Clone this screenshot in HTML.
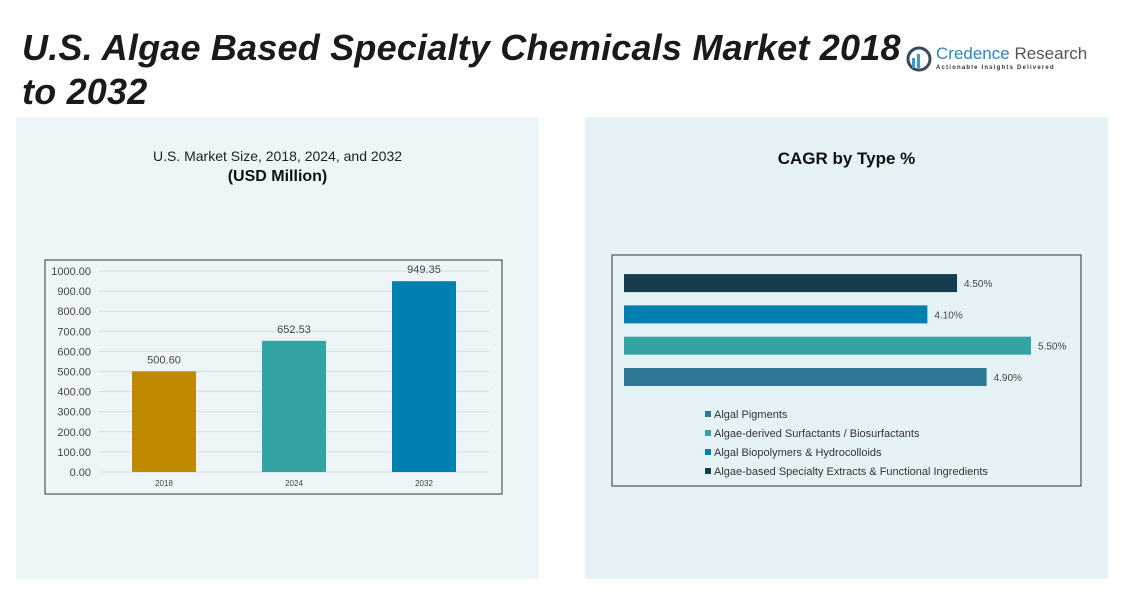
<!DOCTYPE html>
<html><head><meta charset="utf-8">
<style>
body{margin:0;width:1138px;height:616px;background:#fff;font-family:"Liberation Sans",sans-serif;overflow:hidden;position:relative}
.t{position:absolute;left:22px;top:26px;font-size:36px;letter-spacing:0.2px;font-weight:bold;font-style:italic;color:#1a1a1a;line-height:44px;white-space:nowrap}
.panel{position:absolute;background:#eef5f9}
</style></head><body>
<div class="t">U.S. Algae Based Specialty Chemicals Market 2018<br>to 2032</div>
<div style="position:absolute;left:904px;top:44px;width:190px;height:30px;white-space:nowrap">
  <svg width="30" height="30" style="position:absolute;left:0;top:0"><circle cx="15" cy="15" r="11" fill="none" stroke="#3a4a5a" stroke-width="3"/><rect x="8" y="14" width="3" height="10" fill="#3a9ad0"/><rect x="13" y="10" width="3" height="14" fill="#3a9ad0"/></svg>
  <div style="position:absolute;left:32px;top:0;font-size:17px;color:#2a86c0;white-space:nowrap">Credence <span style="color:#555">Research</span></div>
  <div style="position:absolute;left:32px;top:21px;font-size:6px;color:#333;letter-spacing:1.2px;font-weight:bold;white-space:nowrap">Actionable Insights Delivered</div>
</div>
<div class="panel" style="left:16px;top:117px;width:523px;height:462px"></div>
<div class="panel" style="left:585px;top:117px;width:523px;height:462px;background:#e6f3f6"></div>
<div style="position:absolute;left:16px;width:523px;top:148px;text-align:center;font-size:14px;color:#222">U.S. Market Size, 2018, 2024, and 2032</div>
<div style="position:absolute;left:16px;width:523px;top:168px;text-align:center;font-size:16px;font-weight:bold;color:#111">(USD Million)</div>
<div style="position:absolute;left:585px;width:523px;top:149px;text-align:center;font-size:17px;font-weight:bold;color:#111">CAGR by Type %</div>
<svg id="c1" width="1138" height="616" style="position:absolute;left:0;top:0"></svg>
<script>
const years=["2018","2024","2032"];
const sizes=[500.60,652.53,949.35];
const barColors=["#c08a00","#33a3a3","#0080b0"];
const yTicks=[0,100,200,300,400,500,600,700,800,900,1000];
const types=["Algal Pigments","Algae-derived Surfactants / Biosurfactants","Algal Biopolymers & Hydrocolloids","Algae-based Specialty Extracts & Functional Ingredients"];
const cagr=[4.90,5.50,4.10,4.50];
const typeColors=["#2e7896","#33a3a3","#0080b0","#163c4e"];
const NS="http://www.w3.org/2000/svg";
const svg=document.getElementById('c1');
function mk(tag,attrs,parent){const e=document.createElementNS(NS,tag);for(const k in attrs)e.setAttribute(k,attrs[k]);(parent||svg).appendChild(e);return e;}
function txt(s,attrs){const e=mk('text',attrs);e.textContent=s;return e;}
const f1=mk('rect',{x:45,y:260,width:457,height:234,fill:'none',stroke:'#333','stroke-width':1});

const y0=472,y1=271,xL=99,xR=489;
const ys=v=>y0-(v/1000)*(y0-y1);
yTicks.forEach(t=>{
  const g=mk('line',{x1:xL,x2:xR,y1:ys(t),y2:ys(t),stroke:'#d4dde2','stroke-width':1});
  
  const l=txt(t.toFixed(2),{x:91,y:ys(t)+4,'text-anchor':'end','font-size':11,fill:'#444'});
  
});
const band=(xR-xL)/years.length;
years.forEach((yr,i)=>{
  const cx=xL+band*(i+0.5),w=64;
  const b=mk('rect',{x:cx-w/2,y:ys(sizes[i]),width:w,height:y0-ys(sizes[i]),fill:barColors[i]});
  
  const v=txt(sizes[i].toFixed(2),{x:cx,y:ys(sizes[i])-8,'text-anchor':'middle','font-size':11,fill:'#444'});
  
  const xl=txt(yr,{x:cx,y:486,'text-anchor':'middle','font-size':8,fill:'#444'});
  
});
const f2=mk('rect',{x:612,y:255,width:469,height:231,fill:'none',stroke:'#333','stroke-width':1});

const hx0=624,perPct=74;
const xs=v=>hx0+v*perPct;
cagr.forEach((v,i)=>{
  const yTop=377-i*31.3-9,h=18;
  const b=mk('rect',{x:hx0,y:yTop,width:xs(v)-hx0,height:h,fill:typeColors[i]});
  
  const l=txt(v.toFixed(2)+'%',{x:xs(v)+7,y:yTop+13,'font-size':10,fill:'#444'});
  
  const ly=418+i*19;
  const sq=mk('rect',{x:705,y:ly-7,width:6,height:6,fill:typeColors[i]});
  
  const lt=txt(types[i],{x:714,y:ly,'font-size':11,fill:'#333'});
  
});
</script>
</body></html>
